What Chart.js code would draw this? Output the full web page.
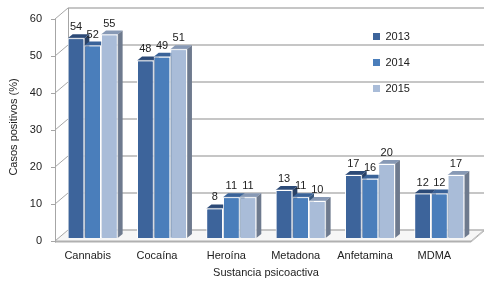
<!DOCTYPE html>
<html><head><meta charset="utf-8">
<script src="https://cdn.jsdelivr.net/npm/chart.js@4.4.0/dist/chart.umd.min.js"></script>
<style>html,body{margin:0;padding:0;background:#fff}#wrap{width:496px;height:289px}</style>
</head><body><div id="wrap"><canvas id="c" width="496" height="289"></canvas></div>
<script>
const categories = ['Cannabis','Cocaína','Heroína','Metadona','Anfetamina','MDMA'];
const years = ['2013','2014','2015'];
const values2013 = [54,48,8,13,17,12];
const values2014 = [52,49,11,11,16,12];
const values2015 = [55,51,11,10,20,17];
const yTicks = [0,10,20,30,40,50,60];

const frontColors = ['#3d649b','#4a7ebb','#a9bcd8'];
const topColors = ['#2c4a77','#3a6399','#8799b5'];
const sideColors = ['#2a4266','#37587f','#6e7a8e'];

const FRONT = {dx:-3, dy:3};
const BACK = {dx:10, dy:-8};
const BAR = {dx:5, dy:-4};
const FONT = 'Liberation Sans, Arial, sans-serif';

function poly(ctx, pts, fill, stroke){
  ctx.beginPath();
  ctx.moveTo(pts[0][0], pts[0][1]);
  for (let i=1;i<pts.length;i++) ctx.lineTo(pts[i][0], pts[i][1]);
  ctx.closePath();
  if (fill){ ctx.fillStyle = fill; ctx.fill(); }
  if (stroke){ ctx.strokeStyle = stroke; ctx.lineWidth = 1; ctx.stroke(); }
}
function line(ctx, x1,y1,x2,y2){ ctx.beginPath(); ctx.moveTo(x1,y1); ctx.lineTo(x2,y2); ctx.stroke(); }

const plugin3d = {
  id: 'plugin3d',
  afterLayout(chart){
    const lg = chart.legend;
    if (lg){
      const w = lg.width, h = lg.height;
      lg.left = 358; lg.top = 16; lg.right = lg.left + w; lg.bottom = lg.top + h;
    }
  },
  beforeDraw(chart){
    const {ctx, chartArea:a, scales:{y}} = chart;
    ctx.save();
    const y0 = y.getPixelForValue(0);
    const fl = a.left + FRONT.dx, fr = a.right + FRONT.dx, fy = y0 + FRONT.dy;
    const bl = a.left + BACK.dx, br = a.right + BACK.dx, by = y0 + BACK.dy;
    // floor
    poly(ctx, [[fl,fy],[fr,fy],[br,by],[bl,by]], '#f6f6f6', null);
    ctx.strokeStyle = '#b5b5b5'; ctx.lineWidth = 1;
    line(ctx, fr, fy+1, br, by+1);
    line(ctx, fr, fy, br, by);
    ctx.lineWidth = 2; ctx.strokeStyle = '#b0b0b0';
    line(ctx, fl, fy+0.5, fr, fy+0.5);
    // back wall gridlines and side wall diagonals
    ctx.strokeStyle = '#b3b3b3'; ctx.lineWidth = 1.5;
    yTicks.forEach(v => {
      const py = y.getPixelForValue(v);
      line(ctx, bl, py+BACK.dy, br, py+BACK.dy);
    });
    ctx.lineWidth = 1; ctx.strokeStyle = '#a6a6a6';
    yTicks.forEach(v => {
      const py = y.getPixelForValue(v);
      line(ctx, fl, py+FRONT.dy, bl, py+BACK.dy);
      line(ctx, fl-4, py+FRONT.dy+0.5, fl, py+FRONT.dy+0.5);
    });
    const ytop = y.getPixelForValue(yTicks[yTicks.length-1]);
    line(ctx, bl+0.5, ytop+BACK.dy, bl+0.5, by);
    line(ctx, fl+0.5, ytop+FRONT.dy, fl+0.5, fy+1.5);
    ctx.restore();
  },
  afterDatasetsDraw(chart){
    const {ctx} = chart;
    ctx.save();
    const metas = [0,1,2].map(d => chart.getDatasetMeta(d));
    for (let i=0;i<categories.length;i++){
      for (let d=0; d<metas.length; d++){
        const el = metas[d].data[i];
        if (!el) continue;
        el.draw(ctx);
        const p = el.getProps(['x','y','base','width'], true);
        const l = p.x - p.width/2, r = p.x + p.width/2, t = p.y, b = p.base;
        poly(ctx, [[l,t],[l+BAR.dx,t+BAR.dy],[r+BAR.dx,t+BAR.dy],[r,t]], topColors[d], null);
        poly(ctx, [[r,t],[r+BAR.dx,t+BAR.dy],[r+BAR.dx,b+BAR.dy],[r,b]], sideColors[d], null);
        ctx.strokeStyle = 'rgba(255,255,255,0.55)'; ctx.lineWidth = 0.8;
        line(ctx, l, t, r, t);
        line(ctx, r, t, r, b);
      }
    }
    ctx.fillStyle = '#222';
    ctx.font = '11px ' + FONT;
    ctx.textAlign = 'center'; ctx.textBaseline = 'middle';
    metas.forEach((m, d) => {
      const vals = chart.data.datasets[d].data;
      m.data.forEach((el, i) => {
        const p = el.getProps(['x','y'], true);
        ctx.fillText(String(vals[i]), p.x, p.y - 11);
      });
    });
    ctx.restore();
  }
};

const datasets = [values2013, values2014, values2015].map((vals, d) => ({
  label: years[d],
  data: vals,
  backgroundColor: frontColors[d],
  borderColor: 'rgba(255,255,255,0.8)',
  borderWidth: 1,
  barPercentage: 1.0,
  categoryPercentage: 0.72
}));

new Chart(document.getElementById('c'), {
  type: 'bar',
  data: { labels: categories, datasets },
  plugins: [plugin3d],
  options: {
    responsive: false,
    animation: false,
    layout: { padding: { top: 16, right: 22, left: 0, bottom: 0 } },
    plugins: {
      tooltip: { enabled: false },
      legend: {
        position: 'chartArea',
        align: 'start',
        labels: {
          boxWidth: 7, boxHeight: 7, padding: 15, color: '#222',
          font: { family: FONT, size: 11 },
          generateLabels: (chart) => Chart.defaults.plugins.legend.labels.generateLabels(chart).map(l => ({...l, lineWidth: 0}))
        }
      }
    },
    scales: {
      x: {
        grid: { display: false }, border: { display: false },
        ticks: { color: '#222', font: { family: FONT, size: 11 }, padding: 3, labelOffset: -5, autoSkip: false, maxRotation: 0 },
        title: { display: true, text: 'Sustancia psicoactiva', color: '#222', font: { family: FONT, size: 11 }, padding: { top: 0, bottom: 9 } },
        afterFit: (s) => { s.height = 51; s.paddingLeft = 0; s.paddingRight = 0; }
      },
      y: {
        min: 0, max: 60,
        grid: { display: false }, border: { display: false },
        ticks: { stepSize: 10, color: '#222', font: { family: FONT, size: 11 }, padding: 8, labelOffset: 3 },
        title: { display: true, text: 'Casos positivos (%)', color: '#222', font: { family: FONT, size: 11 }, padding: { top: 7, bottom: 0 } },
        afterFit: (s) => { s.width = 58; s.paddingTop = 0; s.paddingBottom = 0; }
      }
    }
  }
});
</script>
</body></html>
